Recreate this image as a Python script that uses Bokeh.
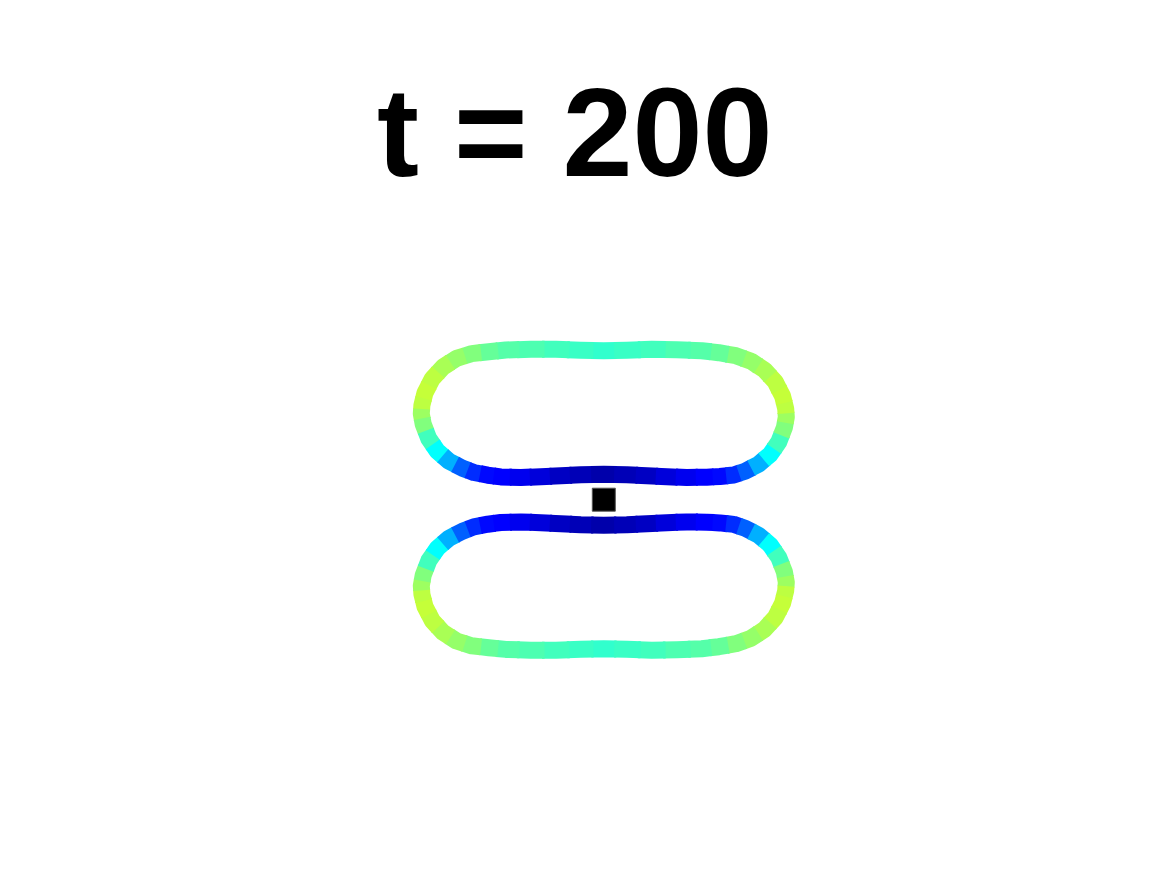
from bokeh.embed import file_html
from bokeh.models import ColumnDataSource, Label
from bokeh.plotting import figure
from bokeh.resources import INLINE
from bokeh.transform import linear_cmap

# snapshot label
time_label = 't = 200'

# upper vesicle centre line, counter-clockwise from top middle (closed)
upper_x = [0.00, -0.23, -0.48, -0.73, -0.98, -1.15, -1.321, -1.473, -1.607, -1.715, -1.788, -1.819, -1.825,
           -1.806, -1.750, -1.663, -1.548, -1.413, -1.30, -1.16, -1.03, -0.83, -0.63, -0.43, -0.23, 0.00,
           0.23, 0.43, 0.63, 0.83, 1.03, 1.16, 1.30, 1.413, 1.548, 1.663, 1.750, 1.806, 1.825,
           1.819, 1.788, 1.715, 1.607, 1.473, 1.321, 1.15, 0.98, 0.73, 0.48, 0.23, 0.00]
upper_y = [1.49, 1.495, 1.505, 1.505, 1.497, 1.48, 1.461, 1.413, 1.327, 1.210, 1.069, 0.945, 0.86,
           0.756, 0.610, 0.484, 0.385, 0.315, 0.272, 0.245, 0.228, 0.222, 0.23, 0.24, 0.25, 0.255,
           0.25, 0.24, 0.23, 0.222, 0.225, 0.232, 0.247, 0.285, 0.355, 0.452, 0.578, 0.722, 0.826,
           0.91, 1.035, 1.178, 1.297, 1.385, 1.44, 1.47, 1.49, 1.50, 1.505, 1.495, 1.49]
upper_c = [0.425, 0.43, 0.44, 0.45, 0.46, 0.475, 0.50, 0.52, 0.54, 0.56, 0.57, 0.56, 0.53,
           0.50, 0.44, 0.375, 0.30, 0.22, 0.17, 0.135, 0.125, 0.11, 0.09, 0.07, 0.055, 0.045,
           0.055, 0.07, 0.09, 0.11, 0.125, 0.135, 0.17, 0.22, 0.30, 0.375, 0.44, 0.50, 0.53,
           0.56, 0.57, 0.56, 0.54, 0.52, 0.50, 0.475, 0.46, 0.45, 0.44, 0.43, 0.425]

# lower vesicle centre line
lower_x = [0.00, -0.23, -0.48, -0.73, -0.98, -1.15, -1.321, -1.473, -1.607, -1.715, -1.788, -1.819, -1.825,
           -1.806, -1.750, -1.663, -1.548, -1.413, -1.30, -1.16, -1.03, -0.83, -0.63, -0.43, -0.23, 0.00,
           0.23, 0.43, 0.63, 0.83, 1.03, 1.16, 1.30, 1.413, 1.548, 1.663, 1.750, 1.806, 1.825,
           1.819, 1.788, 1.715, 1.607, 1.473, 1.321, 1.15, 0.98, 0.73, 0.48, 0.23, 0.00]
lower_y = [-1.49, -1.495, -1.505, -1.505, -1.497, -1.48, -1.461, -1.413, -1.327, -1.210, -1.069, -0.945, -0.86,
           -0.756, -0.610, -0.484, -0.385, -0.315, -0.272, -0.245, -0.228, -0.222, -0.23, -0.24, -0.25, -0.255,
           -0.25, -0.24, -0.23, -0.222, -0.225, -0.232, -0.247, -0.285, -0.355, -0.452, -0.578, -0.722, -0.826,
           -0.91, -1.035, -1.178, -1.297, -1.385, -1.44, -1.47, -1.49, -1.50, -1.505, -1.495, -1.49]
lower_c = [0.425, 0.43, 0.44, 0.45, 0.46, 0.475, 0.50, 0.52, 0.54, 0.56, 0.57, 0.56, 0.53,
           0.50, 0.44, 0.375, 0.30, 0.22, 0.17, 0.135, 0.125, 0.11, 0.09, 0.07, 0.055, 0.045,
           0.055, 0.07, 0.09, 0.11, 0.125, 0.135, 0.17, 0.22, 0.30, 0.375, 0.44, 0.50, 0.53,
           0.56, 0.57, 0.56, 0.54, 0.52, 0.50, 0.475, 0.46, 0.45, 0.44, 0.43, 0.425]

# particle between the two vesicles
particle_x = [0.0]
particle_y = [0.0]


def jet_palette(n=256):
    """ matplotlib style 'jet' colours """
    colors = []
    for i in range(n):
        f = i / (n - 1)
        r = min(max(1.5 - abs(4 * f - 3), 0), 1)
        g = min(max(1.5 - abs(4 * f - 2), 0), 1)
        b = min(max(1.5 - abs(4 * f - 1), 0), 1)
        colors.append('#%02x%02x%02x' % (int(r * 255), int(g * 255), int(b * 255)))
    return colors


def membrane_source(xs, ys, cs, reach=0.55):
    """
        One short piece per point of the closed curve, reaching a little past the midpoints
        with its neighbours so the pieces overlap and join without seams.
    """
    n = len(xs) - 1  # last point repeats the first
    piece_x, piece_y, piece_c = [], [], []
    for i in range(n):
        prev_i = (i - 1) % n
        next_i = i + 1
        piece_x.append([xs[i] + reach * (xs[prev_i] - xs[i]), xs[i], xs[i] + reach * (xs[next_i] - xs[i])])
        piece_y.append([ys[i] + reach * (ys[prev_i] - ys[i]), ys[i], ys[i] + reach * (ys[next_i] - ys[i])])
        piece_c.append(cs[i])
    return ColumnDataSource(data=dict(xs=piece_x, ys=piece_y, c=piece_c))


p = figure(width=1150, height=860, x_range=(-6.033, 5.467), y_range=(-3.608, 4.992),
           x_axis_location=None, y_axis_location=None, min_border=0,
           toolbar_location=None, output_backend="svg")
p.grid.visible = False
p.outline_line_color = None

cmap = linear_cmap('c', jet_palette(), 0.0, 1.0)
for xs, ys, cs in [(upper_x, upper_y, upper_c), (lower_x, lower_y, lower_c)]:
    p.multi_line(xs='xs', ys='ys', source=membrane_source(xs, ys, cs),
                 line_color=cmap, line_width=17, line_cap='butt', line_join='round')

p.scatter(particle_x, particle_y, marker='square', size=23, fill_color='black',
          line_color='#555555', line_width=1)

p.add_layout(Label(x=-0.29, y=3.67, text=time_label, text_align='center', text_baseline='alphabetic',
                   text_font='Liberation Sans', text_font_style='bold',
                   text_font_size='126px', text_color='black'))

open("out.html", "w").write(file_html(p, INLINE))
